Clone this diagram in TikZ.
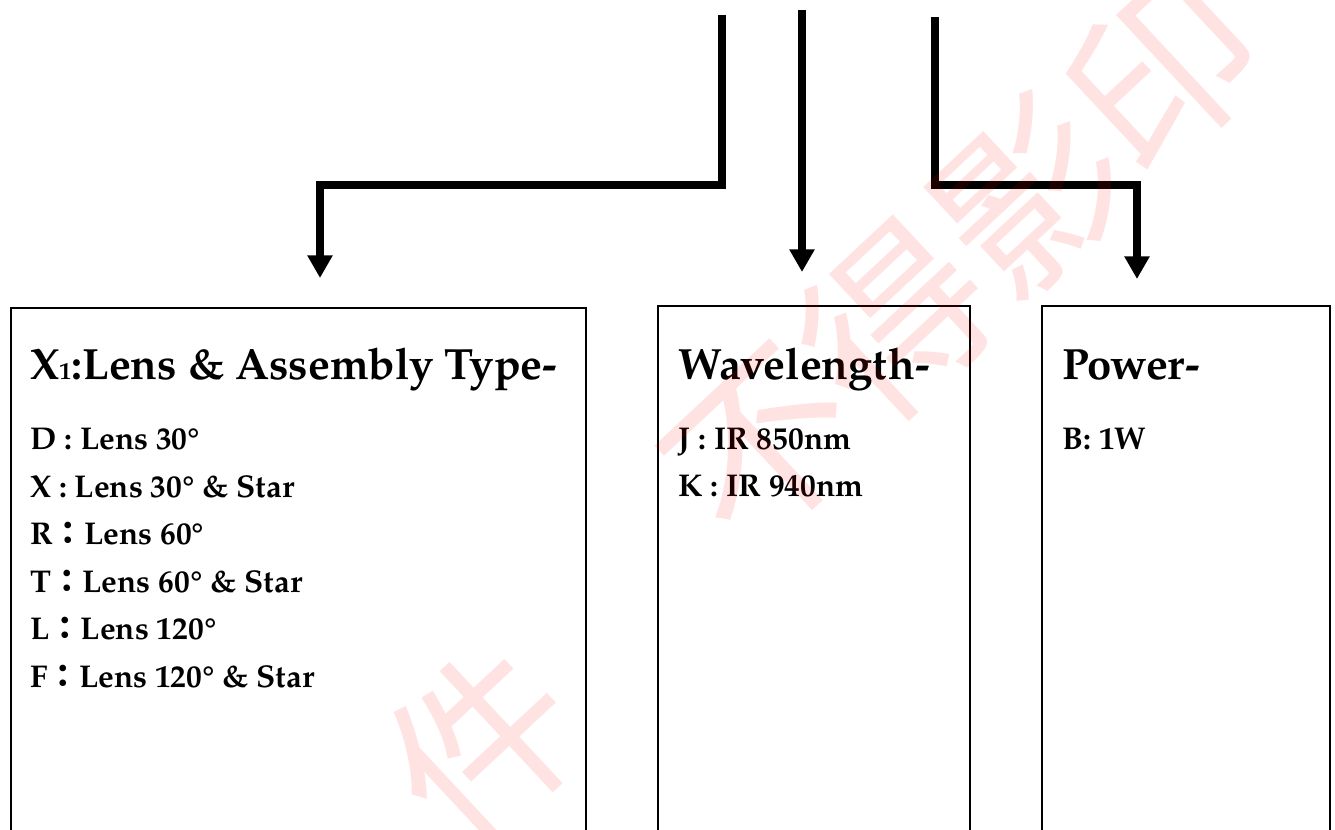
\documentclass[tikz,border=0pt]{standalone}
\usepackage{fontspec}
\setmainfont{texgyrepagella}[Extension=.otf,UprightFont=*-regular,BoldFont=*-bold]
\newfontfamily\cjk{Noto Sans CJK TC}
\usetikzlibrary{arrows.meta,positioning}

\begin{document}
\begin{tikzpicture}[x=0.75pt,y=0.75pt,
  catbox/.style={draw=black, line width=1.5pt, anchor=north west, inner sep=0pt, minimum height=450pt},
  headtxt/.style={anchor=base west, inner sep=0pt, font=\bfseries\fontsize{32.8pt}{36pt}\selectfont},
  itemtxt/.style={anchor=base west, inner sep=0pt, font=\bfseries\fontsize{23.6pt}{26pt}\selectfont},
  feed/.style={line width=5.6pt, line join=miter, -{Triangle[width=18pt,length=17pt]}},
  wmark/.style={text=red, text opacity=0.11, inner sep=0pt, rotate=43, font=\cjk\fontsize{137pt}{137pt}\selectfont}]
\useasboundingbox (0,0) rectangle (1335,830);
\clip (0,0) rectangle (1335,830);

% category boxes
\node[catbox, minimum width=431.25pt] (lensbox) at (10,523) {};
\node[catbox, minimum width=234pt] (wavebox) at (657,525) {};
\node[catbox, minimum width=216pt] (powbox) at (1041,525) {};

% headings
\node[headtxt] (lenshead) at ([xshift=15pt, yshift=-54.75pt]lensbox.north west)
  {X{\fontsize{18pt}{20pt}\selectfont 1}:Lens \& Assembly Type-};
\node[headtxt] (wavehead) at ([xshift=15.75pt, yshift=-56.25pt]wavebox.north west) {Wavelength-};
\node[headtxt] (powhead) at ([xshift=15.75pt, yshift=-56.25pt]powbox.north west) {Power-};

% option lists
\foreach \txt [count=\i from 0] in {{D : Lens 30°}, {X : Lens 30° \& Star}, {R{\cjk ：}Lens 60°},
    {T{\cjk ：}Lens 60° \& Star}, {L{\cjk ：}Lens 120°}, {F{\cjk ：}Lens 120° \& Star}}
  \node[itemtxt] (lens\i) at ([yshift=-52.5pt-\i*35.6pt]lenshead.base west) {\txt};
\node[itemtxt] (wave0) at ([yshift=-52pt]wavehead.base west) {J : IR 850nm};
\node[itemtxt] (wave1) at ([yshift=-87.5pt]wavehead.base west) {K : IR 940nm};
\node[itemtxt] (pow0) at ([yshift=-52pt]powhead.base west) {B: 1W};

% feed lines
\coordinate (feedlvl) at (0,645);
\coordinate (lensfrom) at (722,815);
\coordinate (lenstip) at (320,552);
\coordinate (wavefrom) at (802,820);
\coordinate (wavetip) at (802,558);
\coordinate (powfrom) at (935,813);
\coordinate (powtip) at (1137,551);
\draw[feed] (lensfrom) -- (lensfrom |- feedlvl) -| (lenstip);
\draw[feed] (wavefrom) -- (wavetip);
\draw[feed] (powfrom) -- (powfrom |- feedlvl) -| (powtip);

% watermark
\node[wmark] (wmA) at (482,85) {件};
\node[wmark] (wmB) at (962,572) {不得影印};
\end{tikzpicture}
\end{document}
